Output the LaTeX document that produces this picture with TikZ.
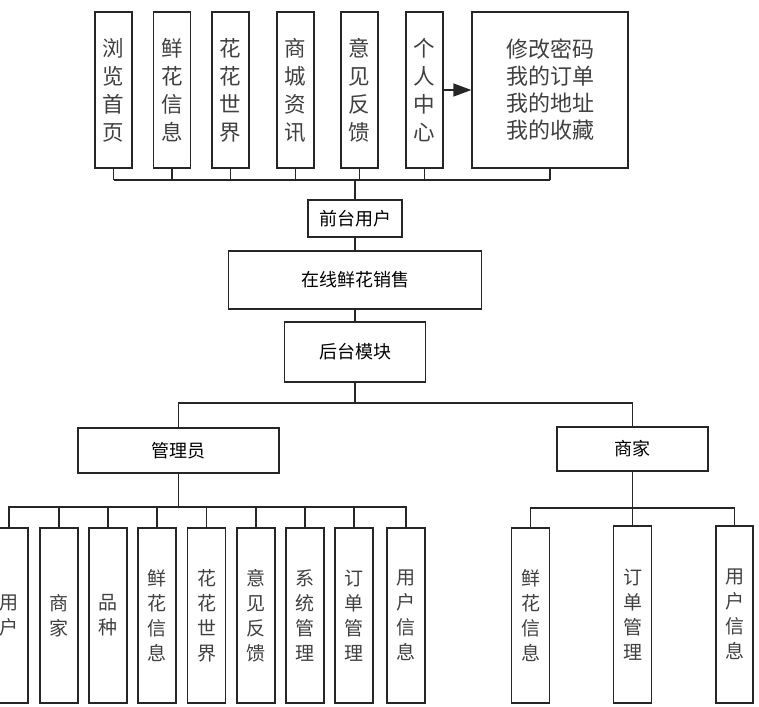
\documentclass[tikz,border=0pt]{standalone}
\usepackage{fontspec}
\setmainfont{Noto Sans CJK SC}
\usetikzlibrary{arrows.meta}
\begin{document}
\begin{tikzpicture}[x=1pt,y=-1pt,
  box/.style={draw=black!85, line width=1.3pt, inner sep=0pt, fill=white},
  link/.style={draw=black!85, line width=1.3pt},
  toptxt/.style={font=\fontsize{21.5}{28}\selectfont, align=center, text=black!75},
  bottxt/.style={font=\fontsize{19}{25}\selectfont, align=center, text=black!75},
  midtxt/.style={font=\fontsize{18}{20}\selectfont, text=black},
  tall/.style={minimum width=37pt, minimum height=156pt},
  low/.style={minimum width=38pt, minimum height=175pt}
]
\useasboundingbox (0,0) rectangle (759,706);
% top row
\node[box, toptxt, tall] (t1) at (113.5,90) {浏\\览\\首\\页};
\node[box, toptxt, tall] (t2) at (172,90) {鲜\\花\\信\\息};
\node[box, toptxt, tall] (t3) at (230.5,90) {花\\花\\世\\界};
\node[box, toptxt, tall] (t4) at (295.5,90) {商\\城\\资\\讯};
\node[box, toptxt, tall] (t5) at (359.5,90) {意\\见\\反\\馈};
\node[box, toptxt, tall] (t6) at (424.5,90) {个\\人\\中\\心};
\node[box, toptxt, minimum width=156pt, minimum height=156pt, font=\fontsize{22}{27}\selectfont] (t7) at (550,90) {修改密码\\我的订单\\我的地址\\我的收藏};
\draw[link, -{Triangle[length=18pt,width=13pt]}] (t6.east) -- (t7.west);
% middle
\node[box, midtxt, minimum width=94pt, minimum height=37pt] (qt) at (355,218.5) {前台用户};
\node[box, midtxt, minimum width=253pt, minimum height=58pt] (zx) at (355,280) {在线鲜花销售};
\node[box, midtxt, minimum width=141pt, minimum height=60pt] (ht) at (355,352) {后台模块};
\coordinate (tb) at (355,180);
\coordinate (tl) at (113.5,180);
\coordinate (tr) at (550,180);
\draw[link] (tl) -- (tr);
\foreach \n in {t1,t2,t3,t4,t5,t6,t7} { \draw[link] (\n.south) -- (\n.south |- tb); }
\draw[link] (tb) -- (qt.north);
\draw[link] (qt.south) -- (zx.north);
\draw[link] (zx.south) -- (ht.north);
% second level
\node[box, midtxt, minimum width=201pt, minimum height=45pt] (gl) at (178.5,450.5) {管理员};
\node[box, midtxt, minimum width=151pt, minimum height=44pt] (sj) at (632.5,449) {商家};
\coordinate (hb) at (355,403);
\draw[link] (ht.south) -- (hb);
\draw[link] (gl.north) |- (hb) -| (sj.north);
% admin children
\node[box, bottxt, low] (a1) at (9,615.5) {用\\户};
\node[box, bottxt, low] (a2) at (59,615.5) {商\\家};
\node[box, bottxt, low] (a3) at (108,615.5) {品\\种};
\node[box, bottxt, low] (a4) at (157,615.5) {鲜\\花\\信\\息};
\node[box, bottxt, low] (a5) at (206.5,615.5) {花\\花\\世\\界};
\node[box, bottxt, low] (a6) at (256,615.5) {意\\见\\反\\馈};
\node[box, bottxt, low] (a7) at (305,615.5) {系\\统\\管\\理};
\node[box, bottxt, low] (a8) at (354,615.5) {订\\单\\管\\理};
\node[box, bottxt, low] (a9) at (406,615.5) {用\\户\\信\\息};
\coordinate (gb) at (178.5,507);
\draw[link, line width=1.8pt] (gl.south) -- (gb);
\draw[link] (a1.north) |- (gb) -| (a9.north);
\foreach \n in {a2,a3,a4,a5,a6,a7,a8} { \draw[link] (\n.north) -- (\n.north |- gb); }
% merchant children
\node[box, bottxt, minimum width=38pt, minimum height=175pt] (m1) at (530.5,615.5) {鲜\\花\\信\\息};
\node[box, bottxt, minimum width=38pt, minimum height=177pt] (m2) at (632.5,614.5) {订\\单\\管\\理};
\node[box, bottxt, minimum width=37pt, minimum height=177pt] (m3) at (734.5,614.5) {用\\户\\信\\息};
\coordinate (sb) at (632.5,508);
\draw[link] (sj.south) -- (m2.north);
\draw[link] (m1.north) |- (sb) -| (m3.north);
\end{tikzpicture}
\end{document}
